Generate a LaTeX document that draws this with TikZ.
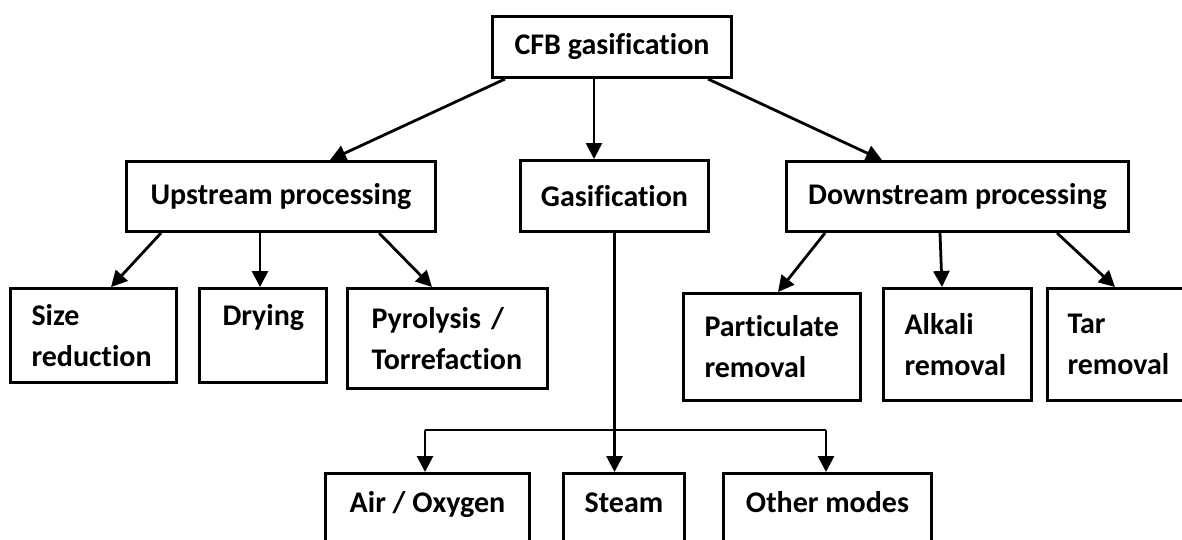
\documentclass[tikz,border=0pt]{standalone}
\usepackage{fontspec}
\setmainfont[Ligatures=NoCommon]{Carlito}
\usetikzlibrary{arrows.meta,calc}
\begin{document}
\begin{tikzpicture}[x=1pt,y=-1pt,
  box/.style={draw, line width=3pt, anchor=north west, inner sep=0pt,
    font=\fontsize{30}{41}\selectfont\bfseries},
  cbox/.style={box, align=center},
  lbox/.style={box, align=left},
  obox/.style={box, align=center, text height=28pt, text depth=90pt, inner ysep=11pt},
  arr/.style={line width=2.8pt, -{Triangle[length=16pt,width=16pt]}},
  plain/.style={line width=2.8pt}]
\useasboundingbox (0,0) rectangle (1182,539);
\clip (0,0) rectangle (1182,539);
% top
\node[cbox, minimum width=239pt, minimum height=61pt] (cfb) at (491,15) {CFB gasification};
% second row
\node[cbox, minimum width=309pt, minimum height=70pt] (up) at (125,160) {Upstream processing};
\node[cbox, minimum width=188pt, minimum height=71pt] (gas) at (519,159) {Gasification};
\node[cbox, minimum width=342pt, minimum height=70pt] (down) at (785,160) {Downstream processing};
% third row
\node[lbox, minimum width=166pt, minimum height=94pt, text width=124pt, inner xsep=21pt] (size) at (9,287) {Size\\reduction};
\node[lbox, minimum width=127pt, minimum height=94pt, text width=81pt, inner xsep=23pt] (dry) at (198,287) {Drying\\\mbox{}};
\node[lbox, minimum width=200pt, minimum height=100pt, text width=152pt, inner xsep=24pt] (pyro) at (346,287) {Pyrolysis /\\Torrefaction};
\node[lbox, minimum width=177pt, minimum height=107pt, text width=135pt, inner xsep=21pt] (part) at (682,292) {Particulate\\removal};
\node[lbox, minimum width=148pt, minimum height=112pt, text width=106pt, inner xsep=21pt] (alk) at (882,287) {Alkali\\removal};
\node[lbox, minimum width=150pt, minimum height=112pt, text width=110pt, inner xsep=20pt] (tar) at (1046,287) {Tar\\removal};
% bottom row
\node[obox, minimum width=204pt] (air) at (324,472) {Air / Oxygen};
\node[obox, minimum width=121pt] (steam) at (562,472) {Steam};
\node[obox, minimum width=208pt] (other) at (722,472) {Other modes};
% connectors from top
\draw[arr] ($(cfb.south west)+(14,0)$) -- ($(up.north west)+(205,0)$);
\draw[arr] ($(cfb.south west)+(103,0)$) -- ($(gas.north west)+(75,0)$);
\draw[arr] ($(cfb.south west)+(217,0)$) -- ($(down.north west)+(97,0)$);
% upstream
\draw[arr] ($(up.south west)+(36,0)$) -- ($(size.north west)+(102,0)$);
\draw[arr] ($(up.south west)+(135,0)$) -- ($(dry.north west)+(62,0)$);
\draw[arr] ($(up.south west)+(254,0)$) -- ($(pyro.north west)+(86,0)$);
% downstream
\draw[arr] ($(down.south west)+(40,0)$) -- ($(part.north west)+(96,0)$);
\draw[arr] ($(down.south west)+(155,0)$) -- ($(alk.north west)+(60,0)$);
\draw[arr] ($(down.south west)+(272,0)$) -- ($(tar.north west)+(69,0)$);
% gasification modes
\coordinate (gj) at ($(gas.south)+(0,197)$);
\coordinate (jl) at ($(air.north west)+(101,0)$);
\coordinate (jr) at ($(other.north west)+(104,0)$);
\draw[arr] (gas.south) -- (gas.south |- steam.north);
\draw[plain] (jl |- gj) -- (jr |- gj);
\draw[arr] (jl |- gj) -- (jl);
\draw[arr] (jr |- gj) -- (jr);
\end{tikzpicture}
\end{document}
